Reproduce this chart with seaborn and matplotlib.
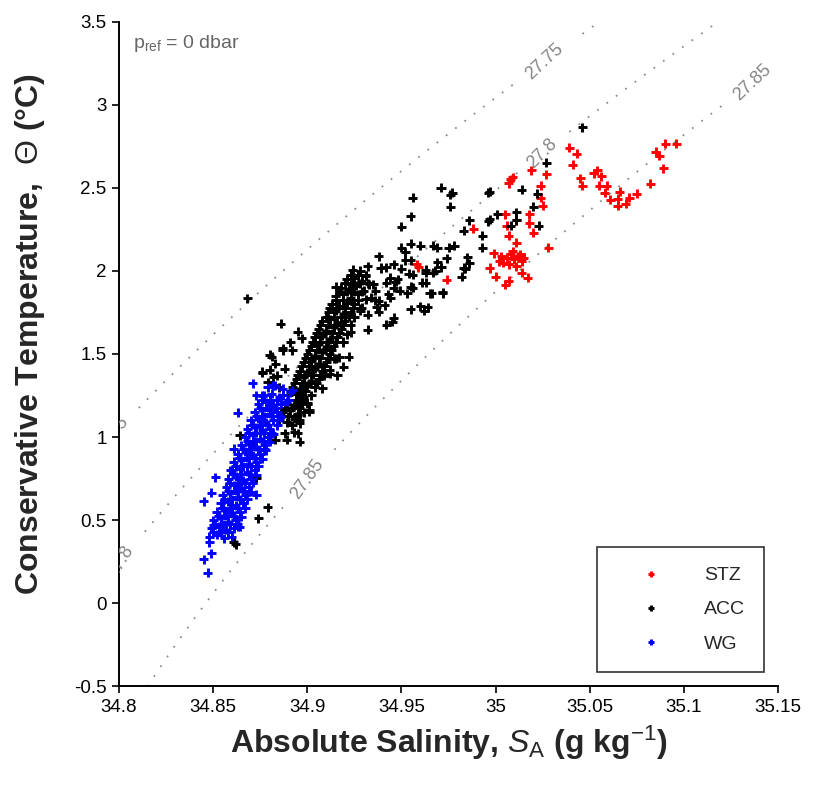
import numpy as np
import pandas as pd
import matplotlib
matplotlib.use("Agg")
import matplotlib.pyplot as plt
import seaborn as sns
from matplotlib.ticker import FuncFormatter

# ---------------- data ----------------
stz_sa = [35.039, 35.043, 35.041, 35.019, 35.027, 35.008, 35.007, 35.009, 35.024, 35.045,
          35.046, 35.052, 35.054, 35.056, 35.055, 35.058, 35.059, 35.061, 35.066, 35.065,
          35.069, 35.065, 35.071, 35.075, 35.082, 35.089, 35.085, 35.087, 35.090, 35.096,
          35.024, 35.025, 35.005, 35.018, 35.011, 35.006, 35.018, 35.020, 34.988, 35.007,
          35.011, 35.028, 34.999, 35.003, 35.006, 35.008, 35.010, 35.012, 35.014, 35.004,
          35.007, 35.011, 35.013, 35.009, 35.002, 35.015, 34.997, 35.000, 35.014, 35.017,
          35.007, 35.005, 34.974, 34.958, 34.959]
stz_ct = [2.741, 2.705, 2.639, 2.608, 2.584, 2.554, 2.530, 2.566, 2.512, 2.560,
          2.512, 2.590, 2.608, 2.572, 2.512, 2.470, 2.512, 2.428, 2.476, 2.434,
          2.404, 2.392, 2.440, 2.464, 2.524, 2.620, 2.717, 2.693, 2.765, 2.765,
          2.440, 2.392, 2.343, 2.343, 2.307, 2.271, 2.289, 2.229, 2.253, 2.211,
          2.169, 2.139, 2.108, 2.090, 2.080, 2.100, 2.070, 2.090, 2.060, 2.050,
          2.040, 2.030, 2.100, 2.120, 2.060, 2.080, 2.018, 1.964, 1.988, 1.958,
          1.940, 1.916, 1.946, 2.042, 2.024]

acc_sa = [
    # dense core
    34.921, 34.925, 34.929, 34.923, 34.931,
    34.918, 34.922, 34.926, 34.930, 34.933,
    34.915, 34.919, 34.923, 34.927, 34.931,
    34.913, 34.917, 34.921, 34.925, 34.929,
    34.911, 34.915, 34.919, 34.923, 34.928,
    34.908, 34.912, 34.916, 34.920, 34.925,
    34.906, 34.910, 34.914, 34.918, 34.923,
    34.904, 34.908, 34.912, 34.916, 34.921,
    34.902, 34.906, 34.910, 34.914, 34.919,
    34.900, 34.904, 34.908, 34.912, 34.917,
    34.898, 34.902, 34.906, 34.910, 34.914,
    34.896, 34.900, 34.904, 34.908, 34.912,
    34.894, 34.898, 34.902, 34.906, 34.909,
    34.892, 34.896, 34.900, 34.904,
    34.890, 34.894, 34.898, 34.902,
    34.889, 34.893, 34.897, 34.900,
    34.887, 34.891, 34.895, 34.898,
    34.885, 34.889, 34.893, 34.896,
    # core, in-between rows
    34.923, 34.927, 34.931,
    34.920, 34.924, 34.928, 34.932,
    34.917, 34.921, 34.925, 34.929,
    34.915, 34.919, 34.923, 34.927,
    34.912, 34.916, 34.920, 34.924, 34.928,
    34.910, 34.914, 34.918, 34.922,
    34.907, 34.911, 34.915, 34.919, 34.923,
    34.905, 34.909, 34.913, 34.917,
    34.903, 34.907, 34.911, 34.915, 34.919,
    34.901, 34.905, 34.909, 34.913,
    34.899, 34.903, 34.907, 34.911, 34.915,
    34.897, 34.901, 34.905, 34.909,
    34.895, 34.899, 34.903, 34.907,
    34.893, 34.897, 34.901,
    34.891, 34.895, 34.899,
    34.890, 34.894, 34.898,
    34.888, 34.892, 34.896,
    34.886, 34.890, 34.894,
    # scattered
    34.868, 34.886, 34.915, 34.924, 34.928, 34.932, 34.938, 34.939, 34.932, 34.942,
    34.945, 34.880, 34.876, 34.882, 34.881, 34.887, 34.880, 34.922, 34.919, 34.946,
    34.938, 34.941, 34.955, 34.962, 34.966, 34.972, 34.963, 34.955, 34.953, 34.944,
    34.947, 34.942, 34.956, 34.963, 34.967, 34.952, 34.971, 34.976, 34.956, 34.976,
    34.955, 34.950, 34.996, 35.001, 34.996, 34.986, 34.983, 34.993, 35.011, 35.011,
    34.955, 34.950, 34.952, 34.960, 34.967, 34.969, 34.975, 34.978, 34.993, 34.985,
    34.974, 34.969, 34.986, 34.955, 34.942, 34.946, 34.950, 34.954, 34.963, 34.968,
    34.971, 34.984, 34.982, 34.956, 34.961, 34.965, 34.943, 34.946, 34.949, 34.944,
    34.948, 34.934, 34.936, 34.938, 34.935, 34.960, 34.964, 35.046, 35.027, 34.997,
    34.977, 35.014, 35.022, 35.020, 35.008, 35.023, 34.997, 34.972, 34.983, 34.864,
    34.871, 34.883, 34.889, 34.895, 34.892, 34.895, 34.873, 34.879, 34.874, 34.861,
    34.862, 34.896, 34.888, 34.893, 34.896, 34.901, 34.886, 34.876, 34.885, 34.879,
    34.884, 34.888, 34.883, 34.932, 34.937, 34.936, 34.895, 34.897, 34.891, 34.887,
    34.892, 34.912, 34.916, 34.905, 34.908, 34.897, 34.900, 34.901, 34.895]
acc_ct = [
    1.95, 1.96, 1.94, 1.92, 1.97,
    1.90, 1.89, 1.91, 1.88, 1.92,
    1.85, 1.86, 1.84, 1.86, 1.83,
    1.80, 1.79, 1.81, 1.80, 1.78,
    1.75, 1.76, 1.74, 1.75, 1.76,
    1.70, 1.71, 1.69, 1.70, 1.72,
    1.65, 1.64, 1.66, 1.65, 1.63,
    1.60, 1.61, 1.59, 1.60, 1.62,
    1.55, 1.56, 1.54, 1.55, 1.57,
    1.50, 1.49, 1.51, 1.50, 1.48,
    1.45, 1.46, 1.44, 1.45, 1.47,
    1.40, 1.39, 1.41, 1.40, 1.38,
    1.35, 1.36, 1.34, 1.35, 1.37,
    1.30, 1.29, 1.31, 1.30,
    1.25, 1.26, 1.24, 1.25,
    1.20, 1.19, 1.21, 1.20,
    1.15, 1.16, 1.14, 1.15,
    1.10, 1.09, 1.11, 1.10,
    1.975, 1.975, 1.975,
    1.925, 1.925, 1.925, 1.925,
    1.875, 1.875, 1.875, 1.875,
    1.825, 1.825, 1.825, 1.825,
    1.775, 1.775, 1.775, 1.775, 1.775,
    1.725, 1.725, 1.725, 1.725,
    1.675, 1.675, 1.675, 1.675, 1.675,
    1.625, 1.625, 1.625, 1.625,
    1.575, 1.575, 1.575, 1.575, 1.575,
    1.525, 1.525, 1.525, 1.525,
    1.475, 1.475, 1.475, 1.475, 1.475,
    1.425, 1.425, 1.425, 1.425,
    1.375, 1.375, 1.375, 1.375,
    1.325, 1.325, 1.325,
    1.275, 1.275, 1.275,
    1.225, 1.225, 1.225,
    1.175, 1.175, 1.175,
    1.125, 1.125, 1.125,
    1.837, 1.681, 1.904, 2.006, 2.000, 2.030, 2.090, 2.018, 1.645, 1.675,
    1.693, 1.494, 1.392, 1.361, 1.482, 1.536, 1.404, 1.482, 1.422, 1.717,
    1.753, 1.795, 1.771, 1.759, 1.867, 1.867, 1.928, 1.904, 1.867, 1.958,
    1.934, 1.928, 1.976, 1.988, 1.988, 2.066, 2.500, 2.458, 2.440, 2.386,
    2.331, 2.265, 2.470, 2.343, 2.301, 2.307, 2.241, 2.211, 2.355, 2.307,
    2.163, 2.139, 2.114, 2.151, 2.151, 2.139, 2.139, 2.151, 2.139, 2.084,
    2.078, 2.054, 2.048, 2.066, 2.024, 2.042, 2.012, 1.982, 2.006, 2.000,
    2.024, 2.012, 1.964, 1.898, 1.928, 1.867, 1.860, 1.900, 1.880, 1.840,
    1.950, 1.840, 1.880, 1.820, 1.920, 1.789, 1.783, 2.867, 2.651, 2.476,
    2.470, 2.488, 2.464, 2.386, 2.271, 2.271, 2.313, 1.873, 2.018, 1.012,
    0.970, 0.982, 0.982, 1.133, 1.072, 1.024, 0.753, 0.578, 0.512, 0.367,
    0.355, 0.970, 1.024, 1.030, 1.084, 1.151, 1.145, 1.386, 1.300, 1.330,
    1.370, 1.410, 1.440, 1.735, 1.783, 1.825, 1.633, 1.596, 1.572, 1.524,
    1.524, 1.404, 1.373, 1.325, 1.295, 1.241, 1.205, 1.163, 1.181]

wg_sa = [
    34.848, 34.852, 34.856, 34.860,
    34.849, 34.853, 34.857, 34.861, 34.864,
    34.850, 34.854, 34.858, 34.862, 34.865,
    34.852, 34.856, 34.860, 34.864, 34.867,
    34.854, 34.858, 34.862, 34.866,
    34.855, 34.859, 34.863, 34.867, 34.870,
    34.857, 34.861, 34.865, 34.869,
    34.858, 34.862, 34.866, 34.870, 34.873,
    34.860, 34.864, 34.868, 34.872,
    34.861, 34.865, 34.869, 34.873, 34.876,
    34.863, 34.867, 34.871, 34.875, 34.878,
    34.865, 34.869, 34.873, 34.877, 34.880,
    34.867, 34.871, 34.875, 34.879, 34.882,
    34.868, 34.872, 34.876, 34.880, 34.884,
    34.870, 34.874, 34.878, 34.882, 34.886,
    34.872, 34.876, 34.880, 34.884,
    34.874, 34.878, 34.882, 34.886,
    34.877, 34.881, 34.885,
    34.879, 34.883, 34.887,
    # in-between rows
    34.850, 34.854, 34.858,
    34.851, 34.855, 34.859, 34.863,
    34.853, 34.857, 34.861,
    34.855, 34.859, 34.863,
    34.856, 34.860, 34.864, 34.868,
    34.858, 34.862, 34.866,
    34.859, 34.863, 34.867, 34.871,
    34.861, 34.865, 34.869,
    34.862, 34.866, 34.870, 34.874,
    34.864, 34.868, 34.872,
    34.866, 34.870, 34.874, 34.877,
    34.868, 34.872, 34.876,
    34.869, 34.873, 34.877, 34.881,
    34.871, 34.875, 34.879,
    34.873, 34.877, 34.881, 34.885,
    34.875, 34.879, 34.883,
    34.876, 34.880, 34.884,
    # scattered
    34.863, 34.871, 34.851, 34.845, 34.850, 34.845, 34.847, 34.861, 34.873, 34.863,
    34.876, 34.848, 34.849, 34.859, 34.849, 34.882, 34.887, 34.891, 34.889, 34.882,
    34.873, 34.892, 34.890]
wg_ct = [
    0.40, 0.41, 0.39, 0.40,
    0.45, 0.46, 0.44, 0.45, 0.46,
    0.50, 0.51, 0.49, 0.50, 0.52,
    0.55, 0.56, 0.54, 0.55, 0.57,
    0.60, 0.61, 0.59, 0.60,
    0.65, 0.66, 0.64, 0.65, 0.67,
    0.70, 0.71, 0.69, 0.70,
    0.75, 0.76, 0.74, 0.75, 0.77,
    0.80, 0.81, 0.79, 0.80,
    0.85, 0.86, 0.84, 0.85, 0.87,
    0.90, 0.91, 0.89, 0.90, 0.92,
    0.95, 0.96, 0.94, 0.95, 0.97,
    1.00, 1.01, 0.99, 1.00, 1.02,
    1.05, 1.06, 1.04, 1.05, 1.07,
    1.10, 1.11, 1.09, 1.10, 1.12,
    1.15, 1.16, 1.14, 1.15,
    1.20, 1.21, 1.19, 1.20,
    1.25, 1.26, 1.24,
    1.30, 1.31, 1.29,
    0.425, 0.425, 0.425,
    0.475, 0.475, 0.475, 0.475,
    0.525, 0.525, 0.525,
    0.575, 0.575, 0.575,
    0.625, 0.625, 0.625, 0.625,
    0.675, 0.675, 0.675,
    0.725, 0.725, 0.725, 0.725,
    0.775, 0.775, 0.775,
    0.825, 0.825, 0.825, 0.825,
    0.875, 0.875, 0.875,
    0.925, 0.925, 0.925, 0.925,
    0.975, 0.975, 0.975,
    1.025, 1.025, 1.025, 1.025,
    1.075, 1.075, 1.075,
    1.125, 1.125, 1.125, 1.125,
    1.175, 1.175, 1.175,
    1.225, 1.225, 1.225,
    1.145, 1.325, 0.759, 0.614, 0.470, 0.265, 0.181, 0.928, 0.651, 0.458,
    1.247, 0.367, 0.301, 0.801, 0.663, 1.313, 1.253, 1.271, 1.211, 1.170,
    1.253, 1.283, 1.223]

groups = ["STZ", "ACC", "WG"]
group_colors = ["#ff0000", "#000000", "#0000ff"]
density_levels = [27.75, 27.8, 27.85]
x_ticks = [34.8, 34.85, 34.9, 34.95, 35.0, 35.05, 35.1, 35.15]
y_ticks = [-0.5, 0, 0.5, 1, 1.5, 2, 2.5, 3, 3.5]

# ---------------- helpers ----------------
def sigma0(sa, ct):
    """Approximate potential density anomaly (EOS-80 one-atmosphere form)."""
    s = sa * 35.0 / 35.16504
    t = ct
    rw = (999.842594 + 6.793952e-2 * t - 9.095290e-3 * t**2 + 1.001685e-4 * t**3
          - 1.120083e-6 * t**4 + 6.536332e-9 * t**5)
    a = 0.824493 - 4.0899e-3 * t + 7.6438e-5 * t**2 - 8.2467e-7 * t**3 + 5.3875e-9 * t**4
    b = -5.72466e-3 + 1.0227e-4 * t - 1.6546e-6 * t**2
    c = 4.8314e-4
    return rw + a * s + b * s**1.5 + c * s**2 - 1000.0

# ---------------- figure ----------------
sns.set_theme(style="ticks")
plt.rcParams["font.family"] = ["Liberation Sans", "DejaVu Sans"]
plt.rcParams["mathtext.fontset"] = "custom"
plt.rcParams["mathtext.rm"] = "Liberation Sans"
plt.rcParams["mathtext.it"] = "Liberation Sans:italic"
plt.rcParams["mathtext.bf"] = "Liberation Sans:bold"

fig = plt.figure(figsize=(8.13, 7.93), dpi=100)
ax = fig.add_axes([0.1464, 0.1349, 0.8106, 0.8374])

# isopycnals
gx = np.linspace(34.70, 35.25, 400)
gy = np.linspace(-1.0, 4.0, 400)
GX, GY = np.meshgrid(gx, gy)
cs = ax.contour(GX, GY, sigma0(GX, GY), levels=density_levels,
                colors="#8c8c8c", linewidths=1.3, linestyles=[(0, (1, 5.5))])
labels = ax.clabel(cs, inline=True, fontsize=13, fmt="%g", colors="#858585",
                   manual=[(35.031, 3.21), (34.789, 1.05), (35.027, 2.69),
                           (34.792, 0.30), (34.901, 0.74), (35.135, 3.15)])
for t in labels:
    t.set_clip_on(True)
    t.set_clip_box(ax.bbox)

df = pd.DataFrame({
    "SA": stz_sa + acc_sa + wg_sa,
    "CT": stz_ct + acc_ct + wg_ct,
    "group": ["STZ"] * len(stz_sa) + ["ACC"] * len(acc_sa) + ["WG"] * len(wg_sa),
})
sns.scatterplot(data=df, x="SA", y="CT", hue="group", hue_order=groups,
                palette=dict(zip(groups, group_colors)), marker="+", s=42,
                linewidth=2.1, ax=ax, legend=True, zorder=3)

ax.set_xlim(34.8, 35.15)
ax.set_ylim(-0.5, 3.5)
ax.set_xticks(x_ticks)
ax.set_yticks(y_ticks)
fmt = FuncFormatter(lambda v, p: "%g" % round(v, 3))
ax.xaxis.set_major_formatter(fmt)
ax.yaxis.set_major_formatter(fmt)
for lab in ax.get_xticklabels() + ax.get_yticklabels():
    lab.set_fontsize(13.5)
    lab.set_color("#1a1a1a")
ax.tick_params(direction="out", length=5, width=1.2, colors="black", pad=4)
for sp in ["left", "bottom"]:
    ax.spines[sp].set_linewidth(1.4)
    ax.spines[sp].set_color("black")
sns.despine(ax=ax)

ax.set_xlabel(r"Absolute Salinity, $\mathit{S}_{\mathrm{A}}$ (g kg$^{-1}$)",
              fontsize=23, fontweight="bold", labelpad=6)
ax.set_ylabel(r"Conservative Temperature,  $\Theta$ (°C)",
              fontsize=23, fontweight="bold")
ax.yaxis.set_label_coords(-0.11, 0.53)

ax.text(0.021, 0.968, r"p$_{\mathrm{ref}}$ = 0 dbar", transform=ax.transAxes,
        fontsize=14, color="#666666", va="center", ha="left")

handles, hl = ax.get_legend_handles_labels()
leg = ax.legend(handles, hl, loc="lower left", bbox_to_anchor=(0.725, 0.021),
                borderaxespad=0, frameon=True, fancybox=False, edgecolor="black",
                borderpad=1.0, handlelength=3.6, handletextpad=0.9, labelspacing=0.85,
                prop={"size": 14}, markerscale=0.7)
leg.get_frame().set_linewidth(1.2)

fig.savefig("out.png", dpi=100)
